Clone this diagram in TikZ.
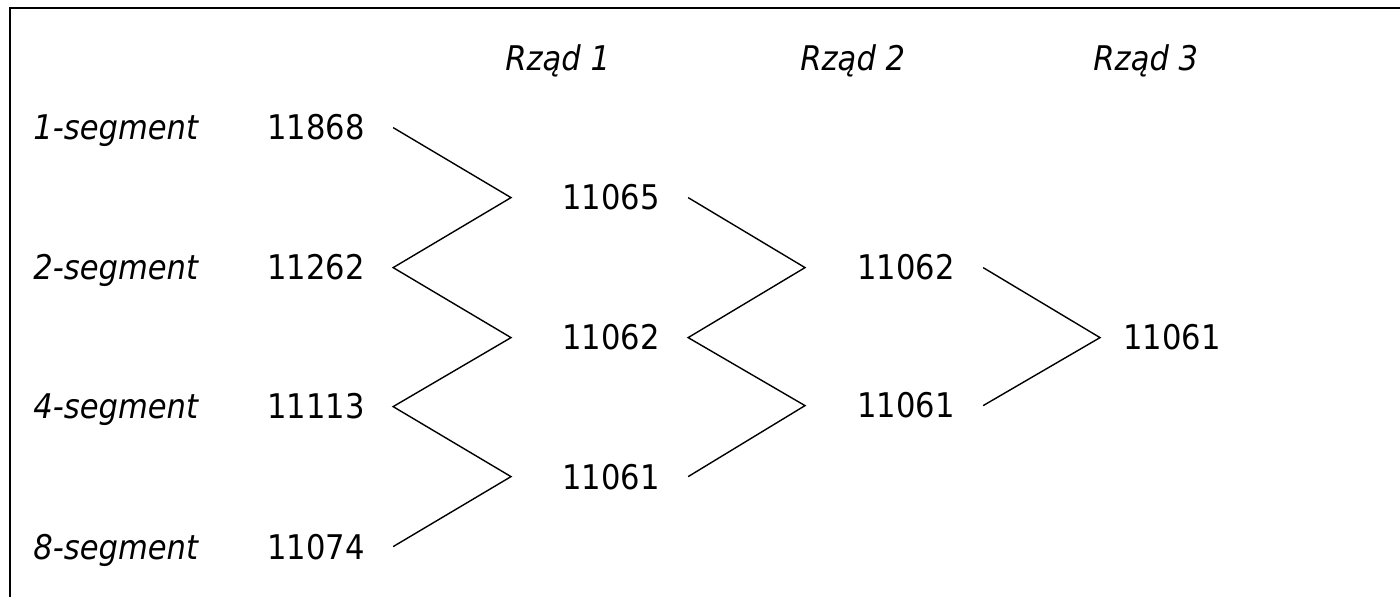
\documentclass[tikz,border=0pt]{standalone}
\usepackage{fontspec}
\setmainfont[FakeStretch=0.9]{DejaVu Sans}

\begin{document}
\begin{tikzpicture}[x=0.5pt,y=-0.5pt,
  num/.style={anchor=base west, inner sep=0pt, font=\fontsize{17}{20}\selectfont},
  lab/.style={num, font=\fontsize{17}{20}\selectfont\itshape},
  zig/.style={line width=0.7pt}]
  \useasboundingbox (0,0) rectangle (1400,597);
  \draw[line width=1pt] (10,597) -- (10,8) -- (1400,8);
  % headers
  \node[lab] (h1) at (505,71) {Rząd 1};
  \node[lab] (h2) at (800,71) {Rząd 2};
  \node[lab] (h3) at (1093,71) {Rząd 3};
  % row labels
  \node[lab] (s1) at (33,140) {1-segment};
  \node[lab] (s2) at (33,280) {2-segment};
  \node[lab] (s4) at (33,419) {4-segment};
  \node[lab] (s8) at (33,559) {8-segment};
  % values
  \node[num] (r11) at (267,140) {11868};
  \node[num] (r12) at (267,280) {11262};
  \node[num] (r13) at (267,419) {11113};
  \node[num] (r14) at (267,559) {11074};
  \node[num] (r21) at (562,210) {11065};
  \node[num] (r22) at (562,350) {11062};
  \node[num] (r23) at (562,489) {11061};
  \node[num] (r31) at (857,280) {11062};
  \node[num] (r32) at (857,418) {11061};
  \node[num] (r41) at (1123,350) {11061};
  % zigzags
  \draw[zig] ([xshift=14pt]r11.east) -- ([xshift=-25.5pt]r21.west) -- ([xshift=14pt]r12.east)
    -- ([xshift=-25.5pt]r22.west) -- ([xshift=14pt]r13.east) -- ([xshift=-25.5pt]r23.west)
    -- ([xshift=14pt]r14.east);
  \draw[zig] ([xshift=14pt]r21.east) -- ([xshift=-26pt]r31.west) -- ([xshift=14pt]r22.east)
    -- ([xshift=-26pt]r32.west) -- ([xshift=14pt]r23.east);
  \draw[zig] ([xshift=14pt]r31.east) -- ([xshift=-11.5pt]r41.west) -- ([xshift=14pt]r32.east);
\end{tikzpicture}
\end{document}
